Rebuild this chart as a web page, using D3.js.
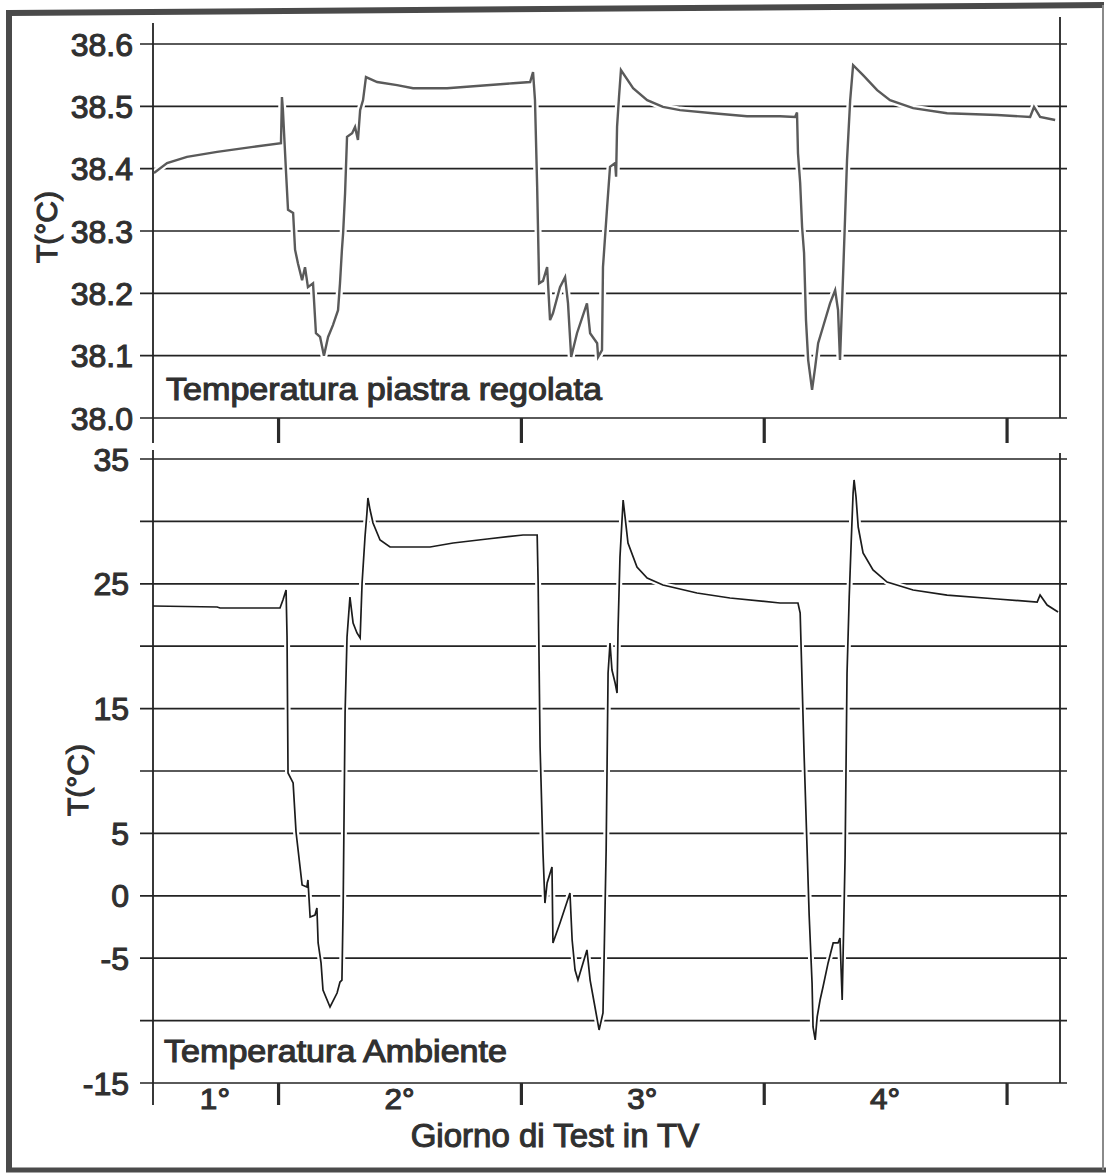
<!DOCTYPE html>
<html>
<head>
<meta charset="utf-8">
<script src="https://cdn.jsdelivr.net/npm/d3@7"></script>
<style>
  html, body { margin: 0; padding: 0; background: #ffffff; }
  svg { display: block; }
  text { font-family: "Liberation Sans", Arial, sans-serif; font-weight: normal;
         fill: #303030; stroke: #303030; stroke-width: 1.1px; }
</style>
</head>
<body>
<svg id="chart" width="1107" height="1173"></svg>
<script>
// ---- Day axis (shared by both panels) ----
const dayTicks = [1, 2, 3, 4];
const dayLabels = ["1°", "2°", "3°", "4°"];
const dayLabelPos = [0.74, 1.5, 2.5, 3.5];

// ---- Regulated plate temperature panel ----
const plateTicks = [38.0, 38.1, 38.2, 38.3, 38.4, 38.5, 38.6];
const plateTickLabels = ["38.0", "38.1", "38.2", "38.3", "38.4", "38.5", "38.6"];

// ---- Ambient temperature panel ----
const ambientTicks = [-15, -10, -5, 0, 5, 10, 15, 20, 25, 30, 35];
const ambientTickLabels = ["-15", "", "-5", "0", "5", "", "15", "", "25", "", "35"];

// Plate temperature record (time in test days, °C)
const plateTime = [
  0.489, 0.543, 0.625, 0.749, 0.897, 1.012, 1.016, 1.020, 1.033, 1.041,
  1.062, 1.070, 1.082, 1.099, 1.111, 1.123, 1.144, 1.156, 1.173, 1.189,
  1.206, 1.226, 1.247, 1.255, 1.263, 1.268, 1.276, 1.284, 1.305, 1.317,
  1.329, 1.338, 1.350, 1.362, 1.408, 1.490, 1.556, 1.696, 1.832, 1.968,
  2.038, 2.050, 2.058, 2.067, 2.075, 2.091, 2.108, 2.120, 2.132, 2.161,
  2.182, 2.194, 2.207, 2.231, 2.272, 2.285, 2.314, 2.318, 2.334, 2.338,
  2.355, 2.367, 2.388, 2.392, 2.396, 2.404, 2.412, 2.462, 2.520, 2.585,
  2.655, 2.791, 2.931, 3.067, 3.129, 3.137, 3.141, 3.150, 3.158, 3.166,
  3.174, 3.183, 3.199, 3.212, 3.224, 3.244, 3.273, 3.294, 3.306, 3.314,
  3.327, 3.335, 3.343, 3.356, 3.368, 3.409, 3.467, 3.520, 3.615, 3.755,
  3.961, 4.097, 4.113, 4.138, 4.200
];
const plateTemp = [
  38.393, 38.409, 38.419, 38.427, 38.435, 38.441, 38.515, 38.494, 38.393, 38.334,
  38.329, 38.270, 38.248, 38.221, 38.242, 38.210, 38.216, 38.136, 38.130, 38.100,
  38.130, 38.149, 38.173, 38.216, 38.270, 38.297, 38.361, 38.451, 38.457, 38.467,
  38.446, 38.494, 38.510, 38.547, 38.539, 38.534, 38.529, 38.529, 38.533, 38.537,
  38.539, 38.555, 38.510, 38.370, 38.216, 38.220, 38.242, 38.157, 38.168, 38.210,
  38.226, 38.184, 38.098, 38.136, 38.184, 38.136, 38.120, 38.098, 38.109, 38.242,
  38.338, 38.403, 38.409, 38.387, 38.467, 38.515, 38.558, 38.529, 38.510, 38.499,
  38.494, 38.489, 38.484, 38.484, 38.483, 38.490, 38.425, 38.377, 38.306, 38.265,
  38.157, 38.093, 38.045, 38.082, 38.120, 38.146, 38.184, 38.205, 38.173, 38.093,
  38.232, 38.322, 38.414, 38.510, 38.566, 38.550, 38.526, 38.510, 38.497, 38.489,
  38.486, 38.483, 38.499, 38.483, 38.478
];

// Ambient temperature record (time in test days, °C)
const ambientTime = [
  0.485, 0.749, 0.761, 1.008, 1.020, 1.033, 1.037, 1.041, 1.062, 1.074,
  1.099, 1.119, 1.123, 1.132, 1.152, 1.160, 1.165, 1.177, 1.185, 1.214,
  1.243, 1.255, 1.263, 1.268, 1.276, 1.284, 1.296, 1.309, 1.325, 1.338,
  1.346, 1.358, 1.366, 1.370, 1.379, 1.391, 1.420, 1.461, 1.626, 1.721,
  1.861, 2.009, 2.067, 2.071, 2.079, 2.091, 2.099, 2.108, 2.128, 2.132,
  2.161, 2.202, 2.211, 2.223, 2.235, 2.272, 2.285, 2.305, 2.322, 2.338,
  2.343, 2.351, 2.355, 2.359, 2.367, 2.375, 2.388, 2.396, 2.400, 2.408,
  2.421, 2.429, 2.441, 2.478, 2.520, 2.585, 2.725, 2.861, 3.067, 3.141,
  3.150, 3.158, 3.166, 3.179, 3.187, 3.199, 3.203, 3.212, 3.220, 3.232,
  3.244, 3.265, 3.286, 3.306, 3.314, 3.323, 3.327, 3.335, 3.343, 3.352,
  3.360, 3.368, 3.372, 3.380, 3.389, 3.409, 3.450, 3.508, 3.615, 3.755,
  3.961, 4.126, 4.138, 4.167, 4.212
];
const ambientTemp = [
  23.22, 23.14, 23.06, 23.06, 23.70, 24.50, 20.74, 9.84, 9.04, 5.11,
  0.87, 0.71, 1.27, -1.70, -1.54, -0.98, -3.78, -5.38, -7.55, -8.91,
  -7.79, -6.91, -6.75, -0.90, 14.65, 20.74, 23.94, 21.86, 21.06, 20.66,
  25.06, 28.75, 30.67, 31.88, 30.91, 29.87, 28.51, 27.95, 27.95, 28.27,
  28.59, 28.91, 28.91, 25.06, 11.92, 3.43, -0.58, 1.03, 2.31, -3.78,
  -2.18, 0.22, -3.54, -5.95, -6.75, -4.34, -6.75, -8.91, -10.75, -9.39,
  -4.58, 3.63, 10.64, 17.85, 20.26, 18.09, 17.05, 16.25, 21.30, 27.15,
  31.71, 30.35, 28.27, 26.35, 25.46, 24.90, 24.26, 23.86, 23.46, 23.46,
  22.66, 17.05, 11.44, 3.43, -1.54, -6.99, -10.51, -11.55, -9.71, -8.35,
  -7.31, -5.38, -3.78, -3.78, -3.38, -8.35, -4.58, 3.11, 17.85, 23.94,
  28.27, 32.28, 33.32, 31.96, 29.55, 27.47, 26.11, 25.14, 24.50, 24.10,
  23.78, 23.54, 24.10, 23.30, 22.74
];

// ---- Layout ----
const svg = d3.select("#chart");
const X0 = 153, X1 = 1060, GRID_END = 1067, TICK_LEFT = 140;
const ink = "#232323";

const x = d3.scaleLinear().domain([0.485, 4.22]).range([X0, X1]);
const yTop = d3.scaleLinear().domain([38.0, 38.6]).range([418, 44]);
const yBot = d3.scaleLinear().domain([-15, 35]).range([1083, 459]);

// text placed at (px, py), optionally widened horizontally
function label(parent, px, py, str, size, anchor, sx) {
  return parent.append("g")
    .attr("transform", `translate(${px},${py}) scale(${sx || 1},1)`)
    .append("text")
    .attr("text-anchor", anchor || "start")
    .style("font-size", size + "px")
    .text(str);
}

// Page frame
const frame = svg.append("g").attr("stroke", "#4a4a4a").attr("fill", "none");
frame.append("line").attr("x1", 9).attr("y1", 13).attr("x2", 1104).attr("y2", 5).attr("stroke-width", 6);
frame.append("line").attr("x1", 9).attr("y1", 10).attr("x2", 9).attr("y2", 1170).attr("stroke-width", 6);
frame.append("line").attr("x1", 6).attr("y1", 1170).attr("x2", 1106).attr("y2", 1170).attr("stroke-width", 5);
frame.append("line").attr("x1", 1103).attr("y1", 5).attr("x2", 1103).attr("y2", 1170).attr("stroke-width", 2).attr("stroke", "#8a8a8a");

function panel(yScale, ticks, tickLabels, time, temp, opts) {
  const g = svg.append("g");

  // horizontal grid lines and left tick marks
  g.selectAll("line.grid").data(ticks).join("line")
    .attr("class", "grid")
    .attr("x1", TICK_LEFT).attr("x2", GRID_END)
    .attr("y1", d => yScale(d)).attr("y2", d => yScale(d))
    .attr("stroke", ink).attr("stroke-width", 1.7);

  const line = d3.line()
    .x((d, i) => x(time[i]))
    .y((d, i) => yScale(temp[i]));

  // white halo that breaks the grid where the record crosses it
  g.append("path").datum(temp)
    .attr("d", line).attr("fill", "none")
    .attr("stroke", "#ffffff").attr("stroke-width", opts.halo)
    .attr("stroke-linejoin", "round");

  // vertical frame of the plot area
  g.append("line").attr("x1", X0).attr("x2", X0)
    .attr("y1", opts.leftTop).attr("y2", opts.leftBottom)
    .attr("stroke", ink).attr("stroke-width", 1.8);
  g.append("line").attr("x1", X1).attr("x2", X1)
    .attr("y1", opts.rightTop).attr("y2", yScale.range()[0])
    .attr("stroke", ink).attr("stroke-width", 1.8);

  // day ticks below the panel
  const dayAxis = d3.axisBottom(x).tickValues(dayTicks).tickSize(opts.dayTick).tickFormat("");
  const da = g.append("g").attr("transform", `translate(0,${yScale.range()[0]})`).call(dayAxis);
  da.select(".domain").remove();
  da.selectAll(".tick line").attr("stroke", "#2a2a2a").attr("stroke-width", 3.2);

  // the recorded trace
  g.append("path").datum(temp)
    .attr("d", line).attr("fill", "none")
    .attr("stroke", opts.color).attr("stroke-width", opts.width)
    .attr("stroke-linejoin", "miter");

  // y tick labels
  ticks.forEach((d, i) => {
    if (tickLabels[i]) label(g, opts.labelX, yScale(d) + 11.5, tickLabels[i], 32, "end");
  });

  // y axis title
  g.append("text")
    .attr("transform", `translate(${opts.titleX},${opts.titleY}) rotate(-90)`)
    .attr("text-anchor", "middle").attr("dy", "0.35em")
    .style("font-size", "30px")
    .text("T(°C)");

  // panel caption
  label(g, opts.capX, opts.capY, opts.caption, 31, "start", 1.1);
}

panel(yTop, plateTicks, plateTickLabels, plateTime, plateTemp, {
  color: "#5a5a5a", width: 2.4, halo: 7,
  leftTop: 23, leftBottom: 443, rightTop: 17, dayTick: 25,
  labelX: 133, titleX: 46, titleY: 227,
  capX: 166, capY: 400, caption: "Temperatura piastra regolata"
});

panel(yBot, ambientTicks, ambientTickLabels, ambientTime, ambientTemp, {
  color: "#1c1c1c", width: 1.7, halo: 6,
  leftTop: 450, leftBottom: 1105, rightTop: 453, dayTick: 22,
  labelX: 129, titleX: 77, titleY: 780,
  capX: 164, capY: 1062, caption: "Temperatura Ambiente"
});

// day labels and x axis title
dayLabels.forEach((d, i) => label(svg, x(dayLabelPos[i]), 1109, d, 30, "middle", 1.05));
label(svg, 555, 1147, "Giorno di Test in TV", 33, "middle");
</script>
</body>
</html>
